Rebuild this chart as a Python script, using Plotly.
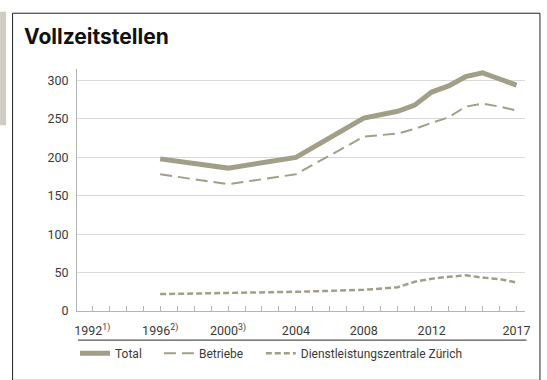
import plotly.graph_objects as go

# Full-time positions by year
years = [1996, 2000, 2004, 2008, 2010, 2011, 2012, 2013, 2014, 2015, 2016, 2017]
total = [198, 186, 200, 251, 260, 268, 285, 293, 305, 310, 302, 294]
betriebe = [178, 165, 178, 227, 231, 237, 245, 252, 266, 270, 266, 261]
dlz = [22, 23.5, 25, 27.5, 31, 38, 42, 44.5, 46.5, 43.5, 41.5, 37]

tick_years = [1992, 1996, 2000, 2004, 2008, 2012, 2017]
tick_text = ["1992<sup>1)</sup>", "1996<sup>2)</sup>", "2000<sup>3)</sup>",
             "2004", "2008", "2012", "2017"]
y_ticks = [0, 50, 100, 150, 200, 250, 300]

W, H = 547, 380
ML, MR, MT, MB = 77, 21.5, 69, 61.5
PW, PH = W - ML - MR, H - MT - MB


def px(x):
    return (x - ML) / PW


def py(y):
    return (H - MB - y) / PH


COL = "#a29f88"
TXT = "#3a3a3a"
FONT = "Roboto"

fig = go.Figure()
fig.add_trace(go.Scatter(x=years, y=total, mode="lines", name="Total",
                         legend="legend",
                         line=dict(color=COL, width=5)))
fig.add_trace(go.Scatter(x=years, y=betriebe, mode="lines", name="Betriebe",
                         legend="legend2",
                         line=dict(color=COL, width=2, dash="12px,6px")))
fig.add_trace(go.Scatter(x=years, y=dlz, mode="lines",
                         name="Dienstleistungszentrale Zürich",
                         legend="legend3",
                         line=dict(color=COL, width=2.5, dash="6px,3px")))


def legend_at(x_px):
    return dict(orientation="h", x=px(x_px), xanchor="left",
                y=py(362), yanchor="middle",
                font=dict(family=FONT, size=12, color=TXT),
                itemwidth=30, bgcolor="rgba(0,0,0,0)")


fig.update_layout(
    width=W, height=H,
    margin=dict(l=ML, r=MR, t=MT, b=MB),
    paper_bgcolor="white", plot_bgcolor="white",
    font=dict(family=FONT, size=12, color=TXT),
    showlegend=True,
    legend=legend_at(75),
    legend2=legend_at(159),
    legend3=legend_at(261),
    xaxis=dict(range=[1991.1, 2017.5], tickmode="array",
               tickvals=tick_years, ticktext=tick_text,
               ticks="inside", ticklen=5, tickcolor="#b5b5b5",
               showgrid=False, zeroline=False,
               showline=True, linecolor="#b5b5b5", linewidth=1,
               minor=dict(dtick=1, tick0=1992, ticks="inside", ticklen=5,
                          tickcolor="#b5b5b5", showgrid=False),
               ticklabelstandoff=8,
               tickfont=dict(size=12.5, color=TXT)),
    yaxis=dict(range=[0, 315], tickvals=y_ticks,
               showgrid=True, gridcolor="#d9d9d9", gridwidth=1,
               zeroline=False, showline=True, linecolor="#b5b5b5",
               ticks="", ticklabelstandoff=5,
               tickfont=dict(size=12.5, color=TXT)),
)

shapes = [
    # side accent bar
    dict(type="rect", xref="paper", yref="paper",
         x0=px(0), x1=px(6), y0=py(127), y1=py(10),
         fillcolor="#cfccc3", line=dict(width=0), layer="below"),
    # frame
    dict(type="rect", xref="paper", yref="paper",
         x0=px(12.5), x1=px(540.5), y0=py(390), y1=py(11.5),
         fillcolor="rgba(0,0,0,0)", line=dict(color="#222222", width=1)),
    # separator above legend
    dict(type="line", xref="paper", yref="paper",
         x0=px(78), x1=px(527), y0=py(348.5), y1=py(348.5),
         line=dict(color="#555555", width=1.2)),
]
fig.update_layout(shapes=shapes)

fig.add_annotation(text="<b>Vollzeitstellen</b>", xref="paper", yref="paper",
                   x=px(22), y=py(35), xanchor="left", yanchor="middle",
                   showarrow=False,
                   font=dict(family="Inter", size=21, color="#111111"))

fig.write_html("out.html")
